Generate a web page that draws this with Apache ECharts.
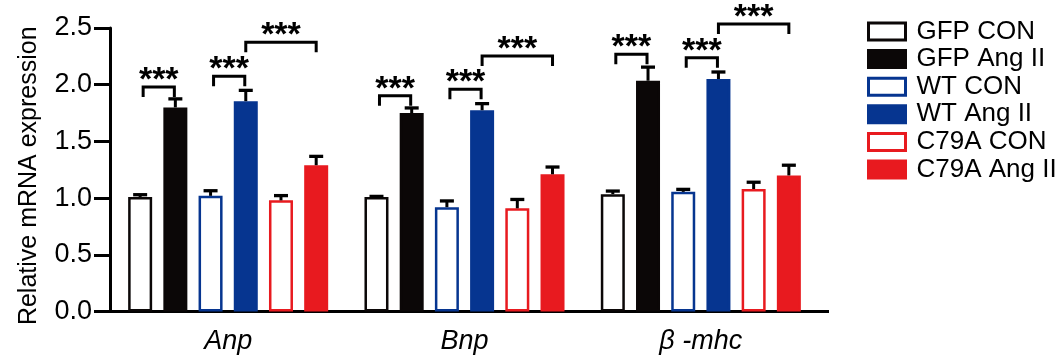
<!DOCTYPE html>
<html>
<head>
<meta charset="utf-8">
<script src="https://cdn.jsdelivr.net/npm/echarts@6/dist/echarts.min.js"></script>
<style>
  html, body { margin: 0; padding: 0; background: #fff; }
  #chart { width: 1059px; height: 360px; }
</style>
</head>
<body>
<div id="chart"></div>
<script>
// ---- data ----
const categories = ['Anp', 'Bnp', 'β -mhc'];
const seriesNames = ['GFP CON', 'GFP Ang II', 'WT CON', 'WT Ang II', 'C79A CON', 'C79A Ang II'];
const gfpCon      = [1.01, 1.01, 1.035];
const gfpConErr   = [0.02, 0.005, 0.027];
const gfpAng      = [1.80, 1.75, 2.035];
const gfpAngErr   = [0.075, 0.045, 0.12];
const wtCon       = [1.02, 0.92, 1.055];
const wtConErr    = [0.045, 0.055, 0.022];
const wtAng       = [1.855, 1.775, 2.05];
const wtAngErr    = [0.095, 0.058, 0.062];
const c79aCon     = [0.98, 0.91, 1.08];
const c79aConErr  = [0.042, 0.078, 0.06];
const c79aAng     = [1.29, 1.21, 1.20];
const c79aAngErr  = [0.078, 0.064, 0.09];
// significance brackets: [category index, from bar, to bar, bracket level]
const sigBrackets = [
  [0, 0, 1, 1.98], [0, 2, 3, 2.074], [0, 3, 5, 2.374],
  [1, 0, 1, 1.903], [1, 2, 3, 1.96], [1, 3, 5, 2.253],
  [2, 0, 1, 2.268], [2, 2, 3, 2.238], [2, 3, 5, 2.535]
];
const sigLabel = '***';
const yTicks = { min: 0, max: 2.5, interval: 0.5 };

// ---- style / layout ----
const FONT = '"Liberation Sans", Arial, sans-serif';
const BLACK = '#0b0707', BLUE = '#063590', RED = '#e81a1f';
const colors = [BLACK, BLACK, BLUE, BLUE, RED, RED];
const hollow = [true, false, true, false, true, false];
const GRID_L = 110, GRID_T = 28, GRID_W = 709, GRID_B = 48.5;
const BAR_W = 24, GAP = 0.467, PITCH = BAR_W * (1 + GAP);
const N = seriesNames.length;
const CAP = 14, LEG = 10;

const values = [gfpCon, gfpAng, wtCon, wtAng, c79aCon, c79aAng];
const errs = [gfpConErr, gfpAngErr, wtConErr, wtAngErr, c79aConErr, c79aAngErr];

const barSeries = seriesNames.map((name, i) => ({
  name, type: 'bar', barWidth: BAR_W, barGap: (GAP * 100) + '%',
  data: values[i],
  itemStyle: {
    color: hollow[i] ? '#ffffff' : colors[i],
    borderColor: colors[i], borderWidth: 2.5
  },
  emphasis: { disabled: true },
  animation: false
}));

const errData = [];
values.forEach((arr, si) => arr.forEach((v, ci) => errData.push([ci, si, v, errs[si][ci]])));

const chart = echarts.init(document.getElementById('chart'), null, { renderer: 'canvas' });
chart.setOption({
  animation: false,
  textStyle: { fontFamily: FONT },
  grid: { left: GRID_L, top: GRID_T, width: GRID_W, bottom: GRID_B, containLabel: false },
  legend: {
    orient: 'vertical', left: 862, top: 13.5,
    icon: 'rect', itemWidth: 37, itemHeight: 17, itemGap: 1.6,
    itemStyle: { borderWidth: 3 },
    textStyle: { fontFamily: FONT, fontSize: 26, color: '#000', padding: [0, 0, 0, 6] },
    data: seriesNames, selectedMode: false
  },
  xAxis: {
    type: 'category', data: categories, boundaryGap: true,
    axisLine: { lineStyle: { color: '#000', width: 3 } },
    axisTick: { alignWithLabel: true, length: 12, lineStyle: { color: '#000', width: 3 } },
    axisLabel: { fontFamily: FONT, fontSize: 27, fontStyle: 'italic', color: '#000', margin: 16 }
  },
  yAxis: {
    type: 'value', min: yTicks.min, max: yTicks.max, interval: yTicks.interval,
    name: 'Relative mRNA expression', nameLocation: 'middle', nameGap: 68,
    nameTextStyle: { fontFamily: FONT, fontSize: 25, color: '#000', padding: [0, 12, 0, 0] },
    axisLine: { show: true, lineStyle: { color: '#000', width: 3 } },
    axisTick: { show: true, length: 16, lineStyle: { color: '#000', width: 3 } },
    axisLabel: { fontFamily: FONT, fontSize: 27, color: '#000', margin: 18,
      formatter: v => v.toFixed(1) },
    splitLine: { show: false }
  },
  graphic: [{
    type: 'line', silent: true,
    shape: { x1: GRID_L + GRID_W - 2, y1: 360 - GRID_B, x2: 829, y2: 360 - GRID_B },
    style: { stroke: '#000', lineWidth: 3 }
  }],
  series: barSeries.concat([
    {
      type: 'custom', name: 'err', data: errData, clip: false, silent: true, z: 5,
      renderItem: (params, api) => {
        const ci = api.value(0), si = api.value(1), v = api.value(2), e = api.value(3);
        const b = api.coord([ci, v]);
        const t = api.coord([ci, v + e]);
        const x = b[0] + (si - (N - 1) / 2) * PITCH;
        return {
          type: 'group', children: [
            { type: 'line', shape: { x1: x, y1: b[1], x2: x, y2: t[1] }, style: { stroke: '#000', lineWidth: 3 } },
            { type: 'line', shape: { x1: x - CAP / 2, y1: t[1], x2: x + CAP / 2, y2: t[1] }, style: { stroke: '#000', lineWidth: 3.3 } }
          ]
        };
      }
    },
    {
      type: 'custom', name: 'sig', data: sigBrackets, clip: false, silent: true, z: 5,
      renderItem: (params, api) => {
        const ci = api.value(0), a = api.value(1), b = api.value(2), y = api.value(3);
        const p = api.coord([ci, y]);
        const long = (b - a) > 1;
        const x1 = p[0] + (a - (N - 1) / 2) * PITCH + (long ? 0 : 3);
        const x2 = p[0] + (b - (N - 1) / 2) * PITCH - (long ? 0 : 1);
        return {
          type: 'group', children: [
            { type: 'polyline', shape: { points: [[x1, p[1] + LEG], [x1, p[1]], [x2, p[1]], [x2, p[1] + LEG]] },
              style: { stroke: '#000', lineWidth: 3, fill: null } },
            { type: 'text', x: (x1 + x2) / 2, y: p[1] - 6.5,
              style: { text: sigLabel, fontFamily: FONT, fontSize: 34, fontWeight: 'bold', fill: '#000',
                align: 'center', verticalAlign: 'middle' } }
          ]
        };
      }
    }
  ])
});
</script>
</body>
</html>
